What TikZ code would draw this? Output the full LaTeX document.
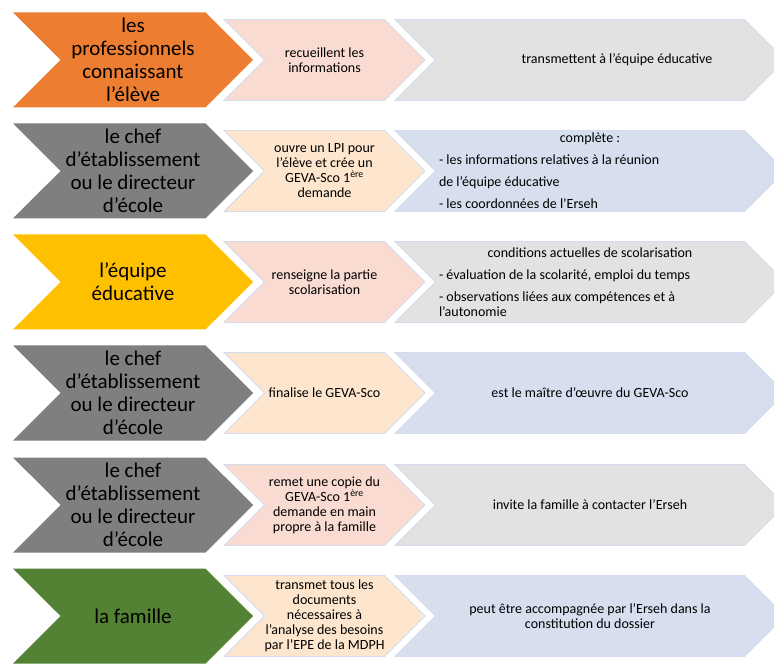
\documentclass[tikz,border=0pt]{standalone}
\usepackage{fontspec}
\setmainfont{Carlito}
\usetikzlibrary{shapes.symbols}

\definecolor{orangechev}{HTML}{ED7D31}
\definecolor{graychev}{HTML}{7F7F7F}
\definecolor{goldchev}{HTML}{FFC000}
\definecolor{greenchev}{HTML}{548235}
\definecolor{pinkfill}{HTML}{F9DBD1}
\definecolor{peachfill}{HTML}{FDE6CD}
\definecolor{greyfill}{HTML}{E2E2E2}
\definecolor{bluefill}{HTML}{D7DFEF}
\definecolor{edge}{HTML}{D3DCEC}

\newcommand{\listbox}[2]{\parbox{302pt}{\centering #1\par\vspace{7pt}\raggedright #2}}

\begin{document}
\begin{tikzpicture}[
    x=1pt, y=-1pt,
    chev/.style={shape=signal, signal from=west, signal to=east, signal pointer angle=90, inner sep=0pt},
    bigchev/.style={chev, minimum width=240pt, minimum height=95pt, align=center,
        font=\fontsize{21}{23}\selectfont},
    midchev/.style={chev, draw=edge, line width=0.8pt, minimum width=201pt, minimum height=81pt,
        align=center, font=\fontsize{14}{15}\selectfont},
    rightchev/.style={midchev, minimum width=390pt}
]
\clip (0,0) rectangle (774,668);
\fill[white] (0,0) rectangle (774,668);

% row 1
\node[bigchev, fill=orangechev] (who1) at (133,60) {les\\professionnels\\connaissant\\l’élève};
\node[midchev, fill=pinkfill] (act1) at (324.5,60) {recueillent les\\informations};
\node[rightchev, fill=greyfill] (res1) at (590,60) {\hspace*{54pt}transmettent à l’équipe éducative};

% row 2
\node[bigchev, fill=graychev] (who2) at (133,171) {le chef\\d’établissement\\ou le directeur\\d’école};
\node[midchev, fill=peachfill] (act2) at (324.5,171) {ouvre un LPI pour\\l’élève et crée un\\GEVA-Sco 1\textsuperscript{ère}\\demande};
\node[rightchev, fill=bluefill] (res2) at (590,171) {\listbox{complète :}{%
    - les informations relatives à la réunion\par\vspace{7pt}
    de l’équipe éducative\par\vspace{7pt}
    - les coordonnées de l’Erseh}};

% row 3
\node[bigchev, fill=goldchev] (who3) at (133,282) {l’équipe\\éducative};
\node[midchev, fill=pinkfill] (act3) at (324.5,282) {renseigne la partie\\scolarisation};
\node[rightchev, fill=greyfill] (res3) at (590,282) {\listbox{conditions actuelles de scolarisation}{%
    - évaluation de la scolarité, emploi du temps\par\vspace{7pt}
    - observations liées aux compétences et à\\
    l’autonomie}};

% row 4
\node[bigchev, fill=graychev] (who4) at (133,393) {le chef\\d’établissement\\ou le directeur\\d’école};
\node[midchev, fill=peachfill] (act4) at (324.5,393) {finalise le GEVA-Sco};
\node[rightchev, fill=bluefill] (res4) at (590,393) {est le maître d’œuvre du GEVA-Sco};

% row 5
\node[bigchev, fill=graychev] (who5) at (133,505) {le chef\\d’établissement\\ou le directeur\\d’école};
\node[midchev, fill=pinkfill] (act5) at (324.5,505) {remet une copie du\\GEVA-Sco 1\textsuperscript{ère}\\demande en main\\propre à la famille};
\node[rightchev, fill=greyfill] (res5) at (590,505) {invite la famille à contacter l’Erseh};

% row 6
\node[bigchev, fill=greenchev] (who6) at (133,616) {la famille};
\node[midchev, fill=peachfill] (act6) at (324.5,616) {transmet tous les\\documents\\nécessaires à\\l’analyse des besoins\\par l’EPE de la MDPH};
\node[rightchev, fill=bluefill] (res6) at (590,616) {peut être accompagnée par l’Erseh dans la\\constitution du dossier};
\end{tikzpicture}
\end{document}
